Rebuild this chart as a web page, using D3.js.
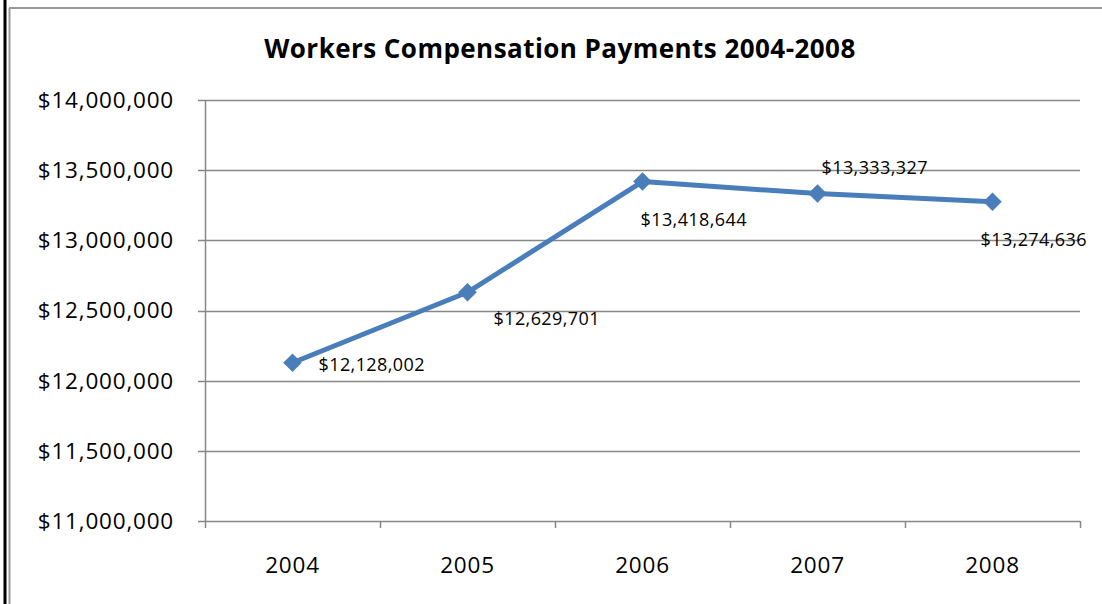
<!DOCTYPE html>
<html>
<head>
<meta charset="utf-8">
<script src="https://cdn.jsdelivr.net/npm/d3@7"></script>
<style>
  body { margin: 0; background: #fff; }
  svg { display: block; font-family: "Open Sans", sans-serif; }
</style>
</head>
<body>
<div id="chart"></div>
<script>
// chart data
const years = ["2004", "2005", "2006", "2007", "2008"];
const payments = [12128002, 12629701, 13418644, 13333327, 13274636];
const yTicks = [11000000, 11500000, 12000000, 12500000, 13000000, 13500000, 14000000];

const width = 1102;
const height = 604;
const margin = {top: 100, left: 205, right: 22, bottom: 83};

const svg = d3.select("#chart")
  .append("svg")
    .attr("width", width)
    .attr("height", height);

// outer frame
svg.append("line")
  .attr("x1", 5).attr("x2", 5).attr("y1", 0).attr("y2", height)
  .attr("stroke", "#000").style("stroke-width", 3);
svg.append("line")
  .attr("x1", 9.5).attr("x2", 9.5).attr("y1", 8).attr("y2", height)
  .attr("stroke", "#999").style("stroke-width", 2);
svg.append("line")
  .attr("x1", 9).attr("x2", width).attr("y1", 8).attr("y2", 8)
  .attr("stroke", "#999").style("stroke-width", 2);

const x = d3.scaleBand()
  .domain(years)
  .range([margin.left, width - margin.right]);

const y = d3.scaleLinear()
  .domain([11000000, 14000000])
  .range([height - margin.bottom, margin.top]);

const fmt = d => "$" + d3.format(",")(d);

// gridlines
svg.append("g")
  .selectAll("line")
  .data(yTicks)
  .join("line")
    .attr("x1", margin.left - 7)
    .attr("x2", width - margin.right)
    .attr("y1", d => Math.round(y(d)) + 0.5)
    .attr("y2", d => Math.round(y(d)) + 0.5)
    .attr("stroke", "#878787")
    .style("stroke-width", 1.5);

// y axis line
svg.append("line")
  .attr("x1", margin.left + 0.5).attr("x2", margin.left + 0.5)
  .attr("y1", margin.top).attr("y2", height - margin.bottom)
  .attr("stroke", "#878787").style("stroke-width", 1.5);

// y labels
svg.append("g")
  .selectAll("text")
  .data(yTicks)
  .join("text")
    .attr("x", 174)
    .attr("y", d => y(d))
    .attr("dy", "0.35em")
    .attr("text-anchor", "end")
    .style("font-size", "22.5px")
    .style("letter-spacing", "0.8px")
    .attr("fill", "#000")
    .text(fmt);

// x axis tick marks at category boundaries
const bounds = years.map(d => x(d)).concat([width - margin.right]);
svg.append("g")
  .selectAll("line")
  .data(bounds)
  .join("line")
    .attr("x1", d => Math.round(d) + 0.5)
    .attr("x2", d => Math.round(d) + 0.5)
    .attr("y1", height - margin.bottom)
    .attr("y2", height - margin.bottom + 7)
    .attr("stroke", "#878787")
    .style("stroke-width", 1.5);

// x labels
svg.append("g")
  .selectAll("text")
  .data(years)
  .join("text")
    .attr("x", d => x(d) + x.bandwidth() / 2)
    .attr("y", 573)
    .attr("text-anchor", "middle")
    .style("font-size", "22.5px")
    .style("letter-spacing", "0.8px")
    .attr("fill", "#000")
    .text(d => d);

// title
svg.append("text")
  .attr("x", 560)
  .attr("y", 58)
  .attr("text-anchor", "middle")
  .style("font-size", "26px")
  .style("letter-spacing", "0.45px")
  .style("font-weight", "bold")
  .text("Workers Compensation Payments 2004-2008");

// line
const pts = years.map((d, i) => ({year: d, value: payments[i]}));
const line = d3.line()
  .x(d => x(d.year) + x.bandwidth() / 2)
  .y(d => y(d.value));

svg.append("path")
  .datum(pts)
  .attr("d", line)
  .attr("fill", "none")
  .attr("stroke", "#4a7ebb")
  .style("stroke-width", 5)
  .attr("stroke-linejoin", "round");

svg.append("g")
  .selectAll("path")
  .data(pts)
  .join("path")
    .attr("d", d3.symbol().type(d3.symbolDiamond2).size(220))
    .attr("transform", d => `translate(${x(d.year) + x.bandwidth() / 2},${y(d.value)})`)
    .attr("fill", "#4a7ebb");

// data labels (offsets as placed in the original)
const labelOffsets = [[26, 2], [26, 26], [-2, 38], [4, -26], [-12, 38]];
svg.append("g")
  .selectAll("text")
  .data(pts)
  .join("text")
    .attr("x", (d, i) => x(d.year) + x.bandwidth() / 2 + labelOffsets[i][0])
    .attr("y", (d, i) => y(d.value) + labelOffsets[i][1])
    .attr("dy", "0.35em")
    .style("font-size", "18px")
    .style("letter-spacing", "0.4px")
    .attr("fill", "#000")
    .text(d => fmt(d.value));
</script>
</body>
</html>
